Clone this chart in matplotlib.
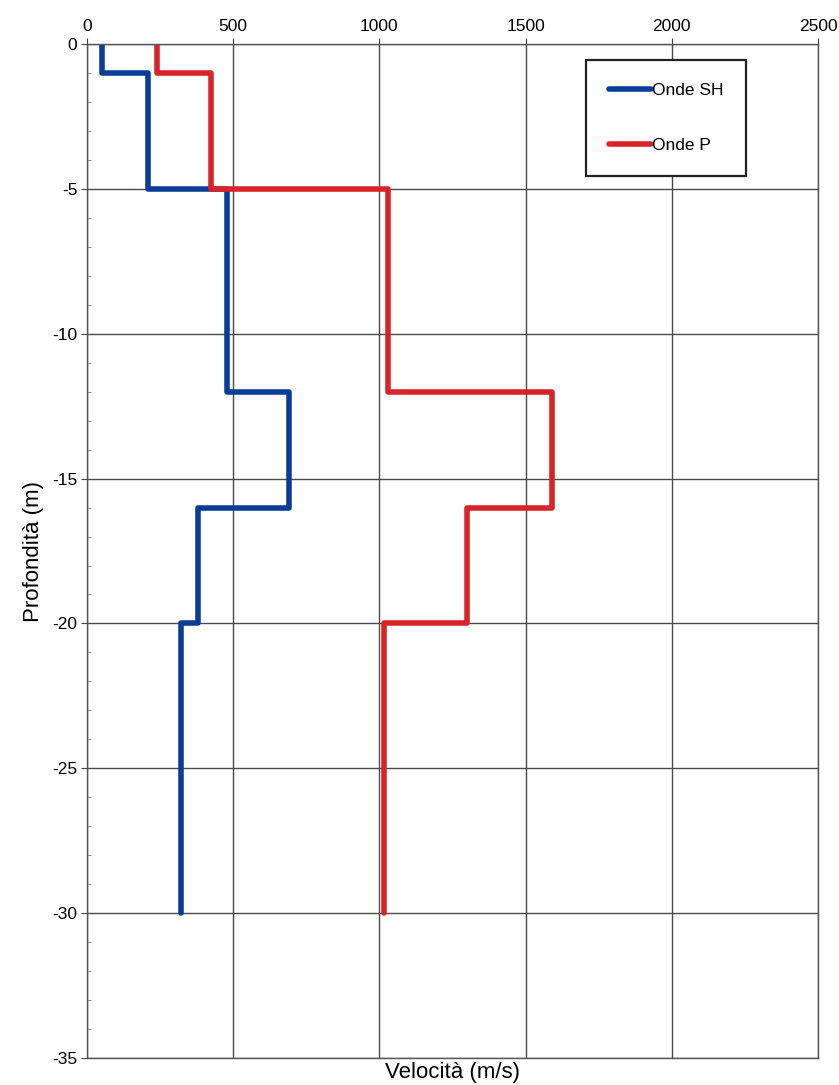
import numpy as np
import matplotlib.pyplot as plt
from matplotlib.ticker import MultipleLocator

plt.rcParams['font.family'] = ['Liberation Sans', 'DejaVu Sans']
plt.rcParams['axes.unicode_minus'] = False

# layer boundaries (m) and interval velocities (m/s)
layer_top = [0, -1, -5, -12, -16, -20]
layer_bottom = [-1, -5, -12, -16, -20, -30]
vel_sh = [50, 210, 480, 690, 380, 320]
vel_p = [240, 425, 1030, 1590, 1300, 1015]

x_ticks = [0, 500, 1000, 1500, 2000, 2500]
y_ticks = [0, -5, -10, -15, -20, -25, -30, -35]


def profile(vel):
    xs = np.repeat(vel, 2)
    ys = np.column_stack([layer_top, layer_bottom]).ravel()
    return xs, ys


fig = plt.figure(figsize=(8.39, 10.85), dpi=100)
ax = fig.add_axes([0.1037, 0.0249, 0.8713, 0.9345])

ax.set_xlim(0, 2500)
ax.set_ylim(-35, 0)
ax.xaxis.tick_top()
ax.set_xticks(x_ticks)
ax.set_yticks(y_ticks)
ax.yaxis.set_minor_locator(MultipleLocator(1))
ax.tick_params(axis='both', which='major', labelsize=12.5, length=4, color='#444444', pad=3)
ax.tick_params(axis='y', which='minor', direction='in', length=3, color='#777777')
ax.grid(True, which='major', color='#4a4a4a', linewidth=1.0)
for s in ax.spines.values():
    s.set_color('#555555')
    s.set_linewidth(1.0)

x, y = profile(vel_sh)
ax.plot(x, y, color='#0a3d98', linewidth=4, solid_capstyle='round', label='Onde SH')
x, y = profile(vel_p)
ax.plot(x, y, color='#d7232a', linewidth=4, solid_capstyle='round', label='Onde P')

ax.set_ylabel('Profondità (m)', fontsize=16, labelpad=6)
ax.text(0.5, -0.004, 'Velocità (m/s)', transform=ax.transAxes, ha='center', va='top', fontsize=16)

leg = ax.legend(loc='upper left', bbox_to_anchor=(0.683, 0.984), fontsize=12.5, frameon=True,
                fancybox=False, edgecolor='#222222', borderpad=1.3, labelspacing=2.3,
                handlelength=2.4, handletextpad=0.1, borderaxespad=0)
leg.get_frame().set_linewidth(1.6)
leg.get_frame().set_facecolor('white')
leg.get_frame().set_alpha(1)

fig.savefig('out.png', dpi=100)
